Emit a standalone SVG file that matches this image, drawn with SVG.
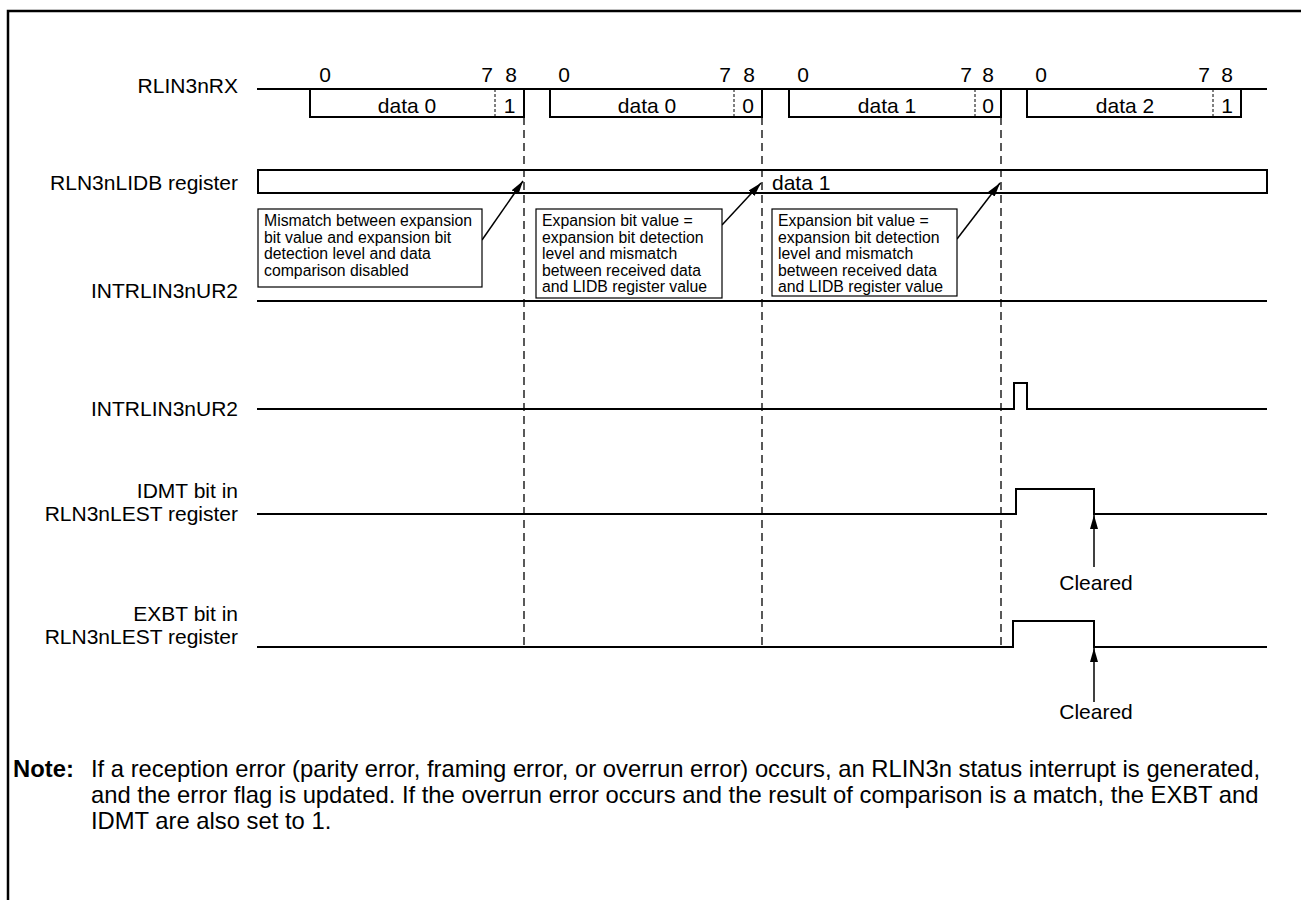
<svg xmlns="http://www.w3.org/2000/svg" width="1301" height="912" viewBox="0 0 1301 912">
<style>
.sig{fill:none;stroke:#000;stroke-width:2}
.thin{fill:none;stroke:#000;stroke-width:1.5}
.dash{fill:none;stroke:#000;stroke-width:1.3;stroke-dasharray:8 5}
.sdash{fill:none;stroke:#000;stroke-width:1;stroke-dasharray:3 2}
.box{fill:#fff;stroke:#000;stroke-width:1.2}
text{font-family:"Liberation Sans",Arial,Helvetica,sans-serif;fill:#000}
.lbl{font-size:21px;text-anchor:end}
.dig{font-size:21px;text-anchor:middle}
.ann{font-size:15.8px}
.note{font-size:23.8px}
</style>
<defs>
<marker id="ah" viewBox="0 0 14 8" refX="14" refY="4" markerWidth="14" markerHeight="8" markerUnits="userSpaceOnUse" orient="auto"><path d="M0 0 L14 4 L0 8 z" fill="#000"/></marker>
</defs>
<rect width="1301" height="912" fill="#fff"/>
<path d="M8 900 V11 H1301" fill="none" stroke="#000" stroke-width="2.5"/>

<g id="labels">
<text class="lbl" x="238" y="93">RLIN3nRX</text>
<text class="lbl" x="238" y="190">RLN3nLIDB register</text>
<text class="lbl" x="238" y="298">INTRLIN3nUR2</text>
<text class="lbl" x="238" y="416">INTRLIN3nUR2</text>
<text class="lbl" x="238" y="498">IDMT bit in</text>
<text class="lbl" x="238" y="521">RLN3nLEST register</text>
<text class="lbl" x="238" y="621">EXBT bit in</text>
<text class="lbl" x="238" y="644">RLN3nLEST register</text>
</g>

<g id="rx">
<path class="sig" d="M257 89 H1267"/>
<path class="sig" d="M310 89 V117 H524 V89"/>
<path class="sig" d="M550 89 V117 H762 V89"/>
<path class="sig" d="M789 89 V117 H1001 V89"/>
<path class="sig" d="M1027 89 V117 H1241 V89"/>
<path class="sdash" d="M495 89 V117 M734 89 V117 M975 89 V117 M1213 89 V117"/>
<text class="dig" x="325" y="82">0</text><text class="dig" x="487" y="82">7</text><text class="dig" x="511" y="82">8</text>
<text class="dig" x="564" y="82">0</text><text class="dig" x="725" y="82">7</text><text class="dig" x="749" y="82">8</text>
<text class="dig" x="803" y="82">0</text><text class="dig" x="966" y="82">7</text><text class="dig" x="988" y="82">8</text>
<text class="dig" x="1041" y="82">0</text><text class="dig" x="1204" y="82">7</text><text class="dig" x="1227" y="82">8</text>
<text class="dig" x="407" y="113">data 0</text><text class="dig" x="509.5" y="113">1</text>
<text class="dig" x="647" y="113">data 0</text><text class="dig" x="748" y="113">0</text>
<text class="dig" x="887" y="113">data 1</text><text class="dig" x="988" y="113">0</text>
<text class="dig" x="1125" y="113">data 2</text><text class="dig" x="1227" y="113">1</text>
</g>

<g id="lidb">
<rect x="258" y="170" width="1009" height="23" class="sig"/>
<text x="772" y="190" style="font-size:21px">data 1</text>
</g>

<g id="ur2a">
<path class="sig" d="M257 301 H1267"/>
</g>

<g id="ur2b">
<path class="sig" d="M257 409 H1014 V383 H1027 V409 H1267"/>
</g>

<g id="idmt">
<path class="sig" d="M257 514 H1016 V489 H1094 V514 H1267"/>
</g>

<g id="exbt">
<path class="sig" d="M257 647 H1013 V621 H1094 V647 H1267"/>
</g>

<g id="connectors">
<path class="dash" d="M524 117 V647 M762 117 V647 M1001 117 V647"/>
<path class="thin" d="M482 240 L523 181" marker-end="url(#ah)"/>
<path class="thin" d="M722 225 L761 183" marker-end="url(#ah)"/>
<path class="thin" d="M957 239 L1000 183" marker-end="url(#ah)"/>
<path class="thin" d="M1094 567 V515" marker-end="url(#ah)"/>
<path class="thin" d="M1094 702 V648" marker-end="url(#ah)"/>
</g>

<g id="note1">
<rect class="box" x="258" y="209" width="224" height="78"/>
<text class="ann" x="264" y="226">Mismatch between expansion</text>
<text class="ann" x="264" y="242.5">bit value and expansion bit</text>
<text class="ann" x="264" y="259">detection level and data</text>
<text class="ann" x="264" y="275.5">comparison disabled</text>
</g>

<g id="note2">
<rect class="box" x="536" y="209" width="186" height="89"/>
<text class="ann" x="542" y="226">Expansion bit value =</text>
<text class="ann" x="542" y="242.5">expansion bit detection</text>
<text class="ann" x="542" y="259">level and mismatch</text>
<text class="ann" x="542" y="275.5">between received data</text>
<text class="ann" x="542" y="292">and LIDB register value</text>
</g>

<g id="note3">
<rect class="box" x="772" y="209" width="185" height="87"/>
<text class="ann" x="778" y="226">Expansion bit value =</text>
<text class="ann" x="778" y="242.5">expansion bit detection</text>
<text class="ann" x="778" y="259">level and mismatch</text>
<text class="ann" x="778" y="275.5">between received data</text>
<text class="ann" x="778" y="292">and LIDB register value</text>
</g>

<g id="cleared">
<text class="dig" x="1096" y="590">Cleared</text>
<text class="dig" x="1096" y="719">Cleared</text>
</g>

<g id="footnote">
<text class="note" x="13" y="777" font-weight="bold">Note:</text>
<text class="note" x="91" y="777">If a reception error (parity error, framing error, or overrun error) occurs, an RLIN3n status interrupt is generated,</text>
<text class="note" x="91" y="803">and the error flag is updated. If the overrun error occurs and the result of comparison is a match, the EXBT and</text>
<text class="note" x="91" y="829">IDMT are also set to 1.</text>
</g>
</svg>
